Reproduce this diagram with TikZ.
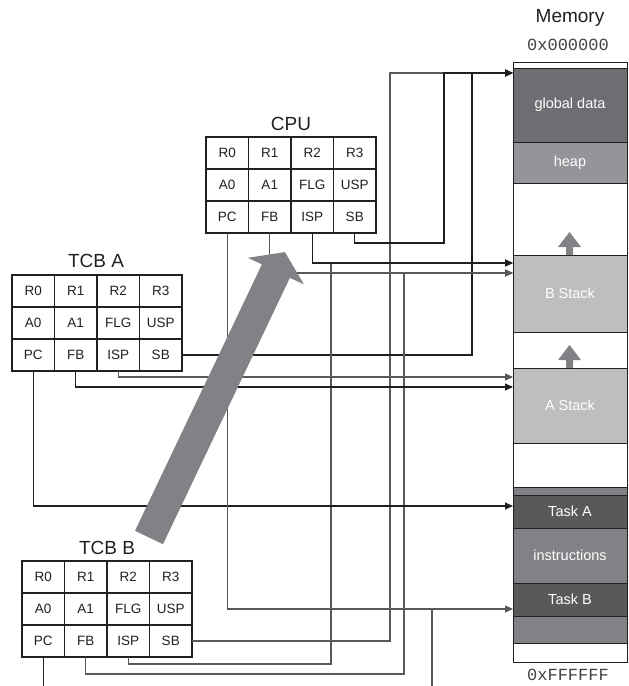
\documentclass[tikz,border=0pt]{standalone}
\usepackage{fontspec}
\setmainfont{Liberation Sans}
\newfontfamily\monof{Liberation Mono}
\usetikzlibrary{arrows.meta}
\definecolor{ink}{HTML}{231F20}
\definecolor{lgray}{HTML}{58595B}
\definecolor{cGlobal}{HTML}{6D6E71}
\definecolor{cHeap}{HTML}{939598}
\definecolor{cStack}{HTML}{BCBEC0}
\definecolor{cTask}{HTML}{58595B}
\definecolor{cInstr}{HTML}{808285}
\definecolor{cBig}{HTML}{808285}
\newcommand\regtable[3]{%
  \foreach \lab [count=\k from 0] in {R0,R1,R2,R3,A0,A1,FLG,USP,PC,FB,ISP,SB}{%
    \pgfmathtruncatemacro\col{mod(\k,4)}%
    \pgfmathtruncatemacro\row{div(\k,4)}%
    \node[cell] (#1\lab) at (#2+42.5*\col, #3+32*\row) {\lab};
  }}
\begin{document}
\begin{tikzpicture}[x=1pt,y=-1pt,
  cell/.style={draw=ink,line width=1.1pt,fill=white,minimum width=42.5pt,
    minimum height=32pt,inner sep=0pt,outer sep=0pt,anchor=north west,
    font=\fontsize{13.5}{14}\selectfont,text=ink},
  lbl/.style={font=\fontsize{19}{20}\selectfont,text=ink,inner sep=0pt},
  addr/.style={font=\monof\fontsize{17}{18}\selectfont,text=ink!85,inner sep=0pt},
  band/.style={draw=ink,line width=0.8pt,minimum width=114pt,inner sep=0pt,
    outer sep=0pt,anchor=north west,text=white,font=\fontsize{14.5}{15}\selectfont},
  dk/.style={draw=ink,line width=1.1pt},
  gr/.style={draw=lgray,line width=1.1pt},
  arr/.style={-{Triangle[length=8pt,width=7pt]}},
]
\useasboundingbox (0,0) rectangle (629,686);

% ---------- memory ----------
\node[band,minimum height=600pt,fill=white] (mem) at (513,62) {};
\node[band,fill=cGlobal,minimum height=74pt] (memGlobal) at (513,68) {global data};
\node[band,fill=cHeap,minimum height=41pt] (memHeap) at (513,142) {heap};
\node[band,fill=cStack,minimum height=77pt] (memB) at (513,255) {B Stack};
\node[band,fill=cStack,minimum height=75pt] (memA) at (513,368) {A Stack};
\node[band,fill=cInstr,minimum height=8pt] (memBand1) at (513,487) {};
\node[band,fill=cTask,minimum height=33pt] (memTaskA) at (513,495) {Task A};
\node[band,fill=cInstr,minimum height=55pt] (memInstr) at (513,528) {instructions};
\node[band,fill=cTask,minimum height=33pt] (memTaskB) at (513,583) {Task B};
\node[band,fill=cInstr,minimum height=27pt] (memBand2) at (513,616) {};

\node[lbl] (memLbl) at (570,18) {Memory};
\node[addr] (addrTop) at (568,45) {0x000000};
\node[addr] (addrBot) at (568,675) {0xFFFFFF};

% small growth arrows
\fill[cBig] (566,255) -- (566,247) -- (558,247) -- (569.5,232) -- (581,247) -- (573,247) -- (573,255) -- cycle;
\fill[cBig] (566,368) -- (566,360) -- (558,360) -- (569.5,345) -- (581,360) -- (573,360) -- (573,368) -- cycle;

% ---------- register tables ----------
\node[lbl] (cpuLbl) at (291,123.5) {CPU};
\regtable{cpu}{206}{137}
\node[lbl] (tcbALbl) at (96,261) {TCB A};
\regtable{tcbA}{12}{275}
\node[lbl] (tcbBLbl) at (107,548) {TCB B};
\regtable{tcbB}{22}{561}

% ---------- connector targets and bends ----------
\coordinate (inG) at (513,73);
\coordinate (inB1) at (513,263);
\coordinate (inB2) at (513,273);
\coordinate (inA1) at (513,377);
\coordinate (inA2) at (513,387);
\coordinate (inTA) at (513,506);
\coordinate (inTB) at (513,609);
\coordinate (kCS) at (444,243);
\coordinate (kAS) at (472,73);
\coordinate (kBS) at (390,73);
\coordinate (kBI) at (331,664);
\coordinate (kBF) at (404,674);
\coordinate (stubB) at (432,686);
\coordinate (kStub) at (432,609);
\coordinate (bottomEdge) at (0,686);

% ---------- connectors ----------
\draw[gr,arr] (tcbBSB.east) -| (kBS) -- (inG);
\draw[dk,arr] (cpuSB.south) |- (kCS) |- (inG);
\draw[dk,arr] (tcbASB.east) -| (kAS) -- (inG);
\draw[gr,arr] (tcbBISP.south) |- (kBI) |- (inB1);
\draw[dk,arr] (cpuISP.south) |- (inB1);
\draw[gr,arr] (tcbBFB.south) |- (kBF) |- (inB2);
\draw[gr,arr] (cpuFB.south) |- (inB2);
\draw[gr,arr] (tcbAISP.south) |- (inA1);
\draw[dk,arr] (tcbAFB.south) |- (inA2);
\draw[dk,arr] (tcbAPC.south) |- (inTA);
\draw[gr,arr] (cpuPC.south) |- (inTB);
\draw[gr] (stubB) -- (kStub);
\draw[dk] (tcbBPC.south) -- (tcbBPC.south |- bottomEdge);

% ---------- big context-switch arrow ----------
\fill[cBig] (135,530.8) -- (261.9,264.4) -- (247.9,257.8) -- (284.9,252.1)
  -- (303.9,284.4) -- (289.9,277.8) -- (163,544.2) -- cycle;
\end{tikzpicture}
\end{document}
